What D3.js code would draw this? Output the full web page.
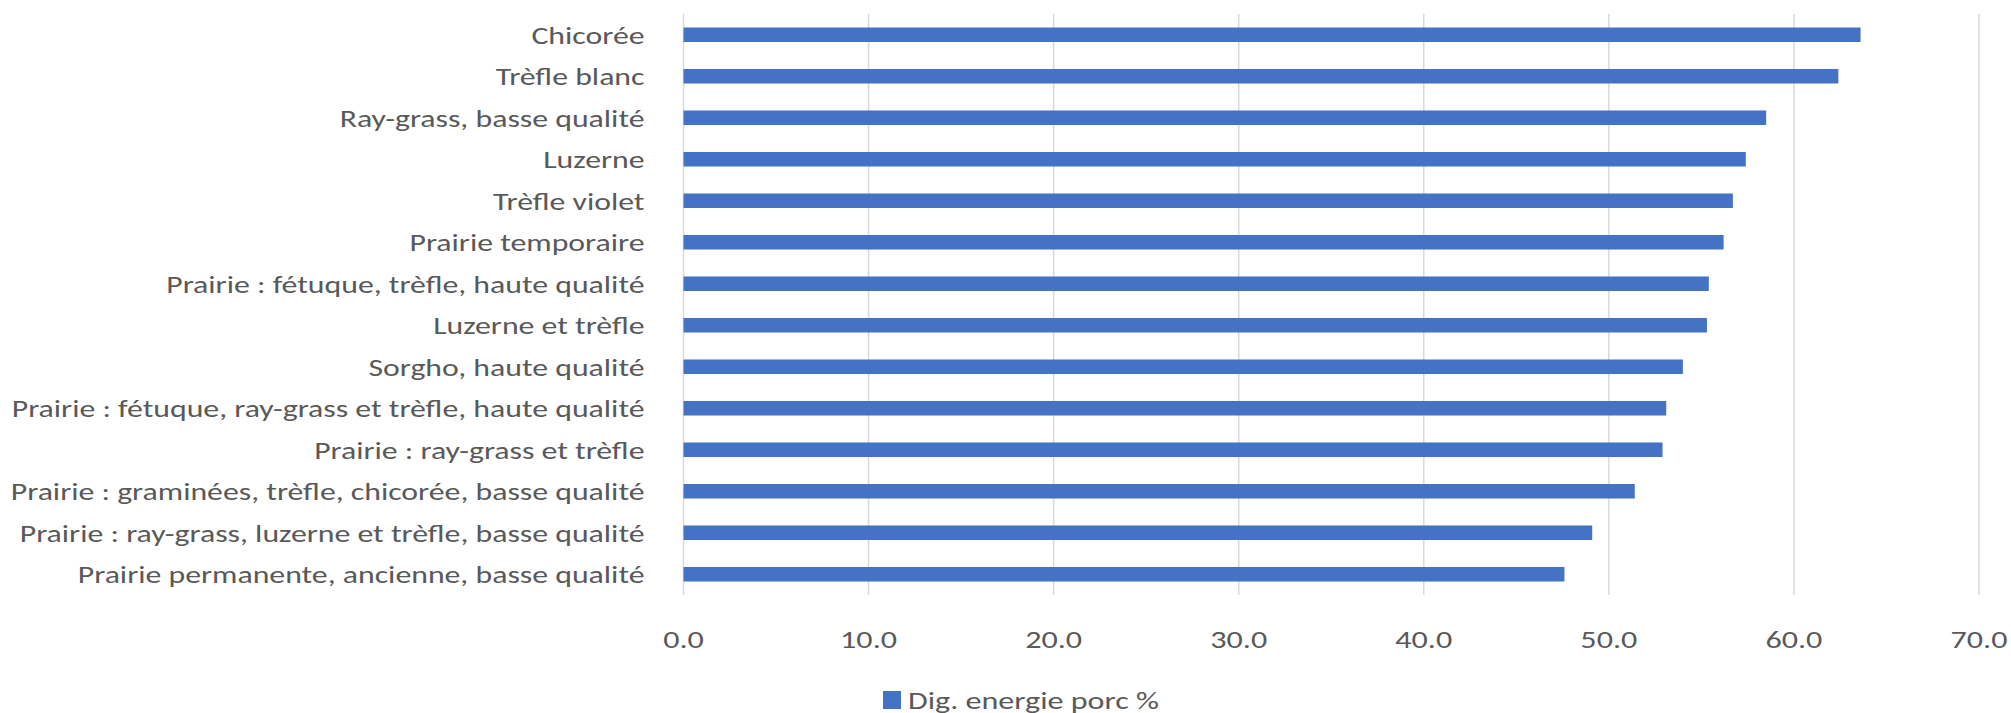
<!DOCTYPE html>
<html lang="fr">
<head>
<meta charset="utf-8">
<title>Digestibilité de l'énergie chez le porc</title>
<script src="https://cdn.jsdelivr.net/npm/d3@7"></script>
<style>
  html, body { margin: 0; padding: 0; background: #ffffff; }
  svg { display: block; }
  text { font-family: Carlito, Calibri, Lato, "Noto Sans", sans-serif; fill: #595959; }
</style>
</head>
<body>
<svg id="chart" width="2011" height="713"></svg>
<script>
// Fourrages, du haut vers le bas
const categories = [
  "Chicorée",
  "Trèfle blanc",
  "Ray-grass, basse qualité",
  "Luzerne",
  "Trèfle violet",
  "Prairie temporaire",
  "Prairie : fétuque, trèfle, haute qualité",
  "Luzerne et trèfle",
  "Sorgho, haute qualité",
  "Prairie : fétuque, ray-grass et trèfle, haute qualité",
  "Prairie : ray-grass et trèfle",
  "Prairie : graminées, trèfle, chicorée, basse qualité",
  "Prairie : ray-grass, luzerne et trèfle, basse qualité",
  "Prairie permanente, ancienne, basse qualité"
];

// Digestibilité de l'énergie chez le porc (%)
const digEnergie = [63.6, 62.4, 58.5, 57.4, 56.7, 56.2, 55.4, 55.3, 54.0, 53.1, 52.9, 51.4, 49.1, 47.6];

const xTicks = [0, 10, 20, 30, 40, 50, 60, 70];
const seriesName = "Dig. energie porc %";

const svg = d3.select("#chart");
const plot = { left: 683.5, right: 1979, top: 14, bottom: 595 };
const barColor = "#4472C4";
const gridColor = "#d9d9d9";
const fontSize = 25;

// Largeurs visées pour quelques textes témoins : la police de repli
// est plus étroite que Calibri, on l'étire donc horizontalement.
const fit = { label: 633, tick: 57, legend: 251 };

function measure(str) {
  const t = svg.append("text").style("font-size", fontSize + "px").text(str);
  const w = t.node().getComputedTextLength();
  t.remove();
  return w;
}
const labelStretch = fit.label / measure(categories[9]);
const tickStretch = fit.tick / measure("10.0");
const legendStretch = fit.legend / measure(seriesName);

const x = d3.scaleLinear().domain([0, 70]).range([plot.left, plot.right]);
const y = d3.scaleBand()
  .domain(categories)
  .range([plot.top, plot.bottom])
  .paddingInner(0.65)
  .paddingOuter(0.325);

// Quadrillage vertical
svg.append("g")
  .selectAll("line")
  .data(xTicks.slice(1))
  .join("line")
  .attr("x1", d => x(d)).attr("x2", d => x(d))
  .attr("y1", plot.top).attr("y2", plot.bottom)
  .attr("stroke", gridColor)
  .attr("stroke-width", 1.5);

// Axe des catégories
svg.append("line")
  .attr("x1", x(0)).attr("x2", x(0))
  .attr("y1", plot.top).attr("y2", plot.bottom)
  .attr("stroke", gridColor)
  .attr("stroke-width", 1.5);

// Barres
svg.append("g")
  .selectAll("rect")
  .data(categories.map((c, i) => ({ c, v: digEnergie[i] })))
  .join("rect")
  .attr("x", x(0))
  .attr("y", d => y(d.c))
  .attr("width", d => x(d.v) - x(0))
  .attr("height", y.bandwidth())
  .attr("fill", barColor);

// Libellés des catégories
svg.append("g")
  .selectAll("text")
  .data(categories)
  .join("text")
  .attr("transform", d => `translate(${x(0) - 39},${y(d) + y.bandwidth() / 2}) scale(${labelStretch},1)`)
  .attr("dy", "0.36em")
  .attr("text-anchor", "end")
  .style("font-size", fontSize + "px")
  .text(d => d);

// Graduations de l'axe des valeurs
svg.append("g")
  .selectAll("text")
  .data(xTicks)
  .join("text")
  .attr("transform", d => `translate(${x(d)},647.5) scale(${tickStretch},1)`)
  .attr("text-anchor", "middle")
  .style("font-size", fontSize + "px")
  .text(d => d3.format(".1f")(d));

// Légende
const legend = svg.append("g").attr("transform", "translate(883,691)");
legend.append("rect")
  .attr("width", 18).attr("height", 18)
  .attr("fill", barColor);
legend.append("text")
  .attr("transform", `translate(25,17.5) scale(${legendStretch},1)`)
  .style("font-size", fontSize + "px")
  .text(seriesName);
</script>
</body>
</html>
